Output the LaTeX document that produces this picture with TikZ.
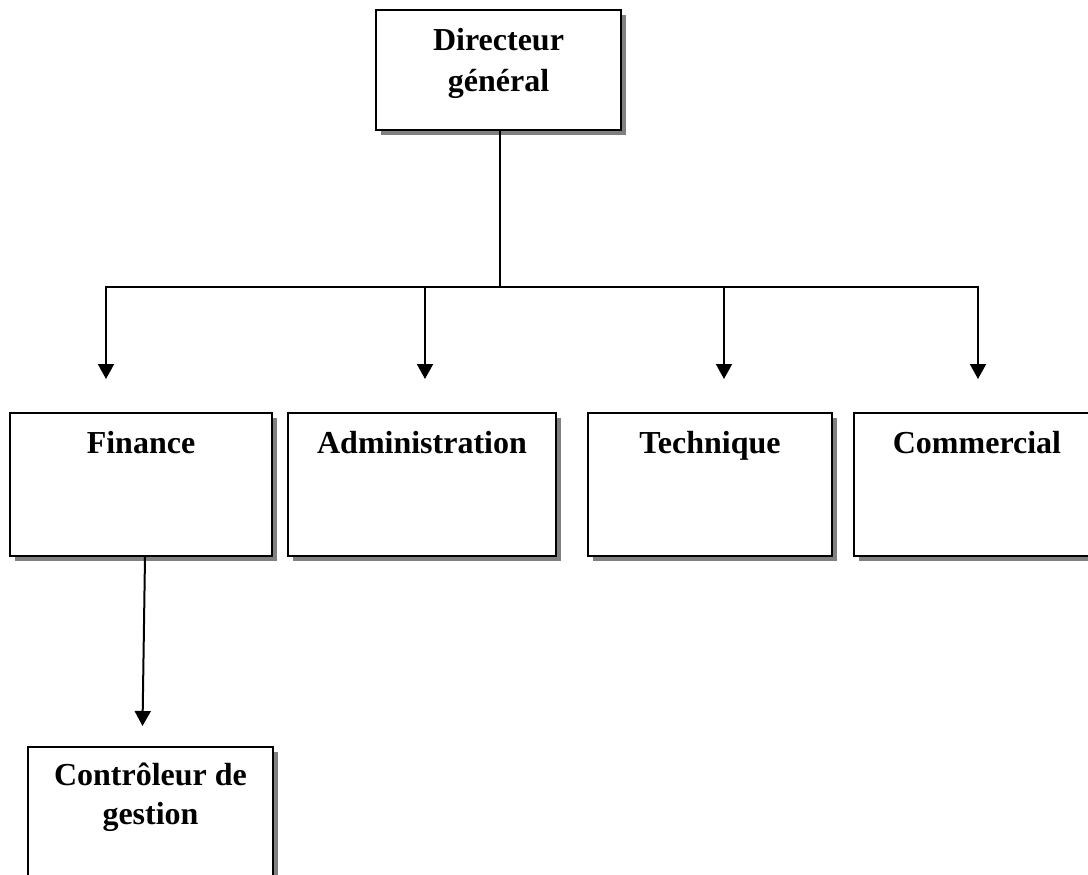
\documentclass[tikz,border=0pt]{standalone}
\usepackage{fontspec}
\setmainfont{Liberation Serif}
\usetikzlibrary{arrows.meta,shadows}
\begin{document}
\begin{tikzpicture}[x=1pt,y=-1pt,
  orgbox/.style={draw, line width=2pt, fill=white, inner sep=0pt,
    minimum height=143pt,
    drop shadow={shadow xshift=5pt, shadow yshift=-5pt, fill=black!50, opacity=1}},
  boxtext/.style={anchor=base, align=center, inner sep=0pt,
    font=\fontsize{32}{39}\selectfont\bfseries},
  link/.style={line width=2pt},
  arrowlink/.style={link, -{Triangle[length=15pt,width=16pt]}}]
\useasboundingbox (0,0) rectangle (1088,875);

% Boxes
\node[orgbox, minimum width=245pt, minimum height=120pt] (dg) at (498.5,70) {};
\node[orgbox, minimum width=262pt] (fin) at (141,484.5) {};
\node[orgbox, minimum width=268pt] (adm) at (422,484.5) {};
\node[orgbox, minimum width=244pt] (tec) at (710,484.5) {};
\node[orgbox, minimum width=246pt] (com) at (977,484.5) {};
\node[orgbox, minimum width=245pt] (ctl) at (150.5,818.5) {};

% Labels (base anchor = baseline of the last line)
\node[boxtext, font=\fontsize{32}{41}\selectfont\bfseries] (dgT)
  at ([yshift=-83pt]dg.north) {Directeur\\général};
\node[boxtext] (finT) at ([yshift=-41pt]fin.north) {Finance};
\node[boxtext] (admT) at ([yshift=-41pt]adm.north) {Administration};
\node[boxtext] (tecT) at ([yshift=-41pt]tec.north) {Technique};
\node[boxtext] (comT) at ([yshift=-41pt]com.north) {Commercial};
\node[boxtext] (ctlT) at ([yshift=-78pt]ctl.north) {Contrôleur de\\gestion};

% Connectors
\coordinate (j) at (500,287);
\draw[link] ([xshift=1.5pt]dg.south) -- (j);
\draw[arrowlink] (j) -| ([xshift=-35pt,yshift=33pt]fin.north);
\draw[arrowlink] (j) -| ([xshift=3pt,yshift=33pt]adm.north);
\draw[arrowlink] (j) -| ([xshift=14pt,yshift=33pt]tec.north);
\draw[arrowlink] (j) -| ([xshift=1pt,yshift=33pt]com.north);
\draw[arrowlink] ([xshift=4pt]fin.south) -- ([xshift=-8pt,yshift=20pt]ctl.north);
\end{tikzpicture}
\end{document}
